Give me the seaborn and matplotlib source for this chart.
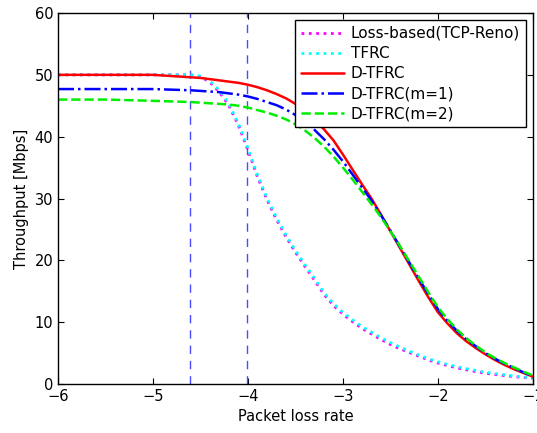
import seaborn as sns
import matplotlib.pyplot as plt

# packet loss rate (log10 scale) grid
loss_rate = [-6.0, -5.5, -5.0, -4.8, -4.6, -4.5, -4.4, -4.3, -4.2, -4.1,
             -4.0, -3.9, -3.8, -3.7, -3.6, -3.5, -3.4, -3.3, -3.2, -3.1,
             -3.0, -2.9, -2.8, -2.7, -2.6, -2.5, -2.4, -2.3, -2.2, -2.1,
             -2.0, -1.9, -1.8, -1.7, -1.6, -1.5, -1.4, -1.3, -1.2, -1.1, -1.0]

loss_based = [50.0, 50.0, 50.0, 50.0, 50.0, 49.7, 48.8, 47.2, 45.0, 41.8,
              37.8, 33.5, 29.8, 26.6, 23.8, 21.3, 19.0, 16.8, 14.5, 12.7,
              11.3, 10.1, 9.0, 8.1, 7.2, 6.4, 5.7, 5.1, 4.5, 3.9,
              3.4, 3.0, 2.6, 2.3, 2.0, 1.75, 1.55, 1.37, 1.2, 1.07, 0.95]

tfrc = [50.0, 50.0, 50.0, 50.0, 50.0, 49.8, 49.0, 47.5, 45.3, 42.1,
        38.1, 33.8, 30.1, 26.9, 24.1, 21.6, 19.3, 17.1, 14.8, 13.0,
        11.6, 10.4, 9.3, 8.4, 7.5, 6.7, 6.0, 5.3, 4.7, 4.1,
        3.6, 3.2, 2.8, 2.5, 2.2, 1.9, 1.7, 1.5, 1.3, 1.15, 1.0]

d_tfrc = [50.0, 50.0, 50.0, 49.8, 49.6, 49.5, 49.3, 49.1, 48.9, 48.7,
          48.4, 48.0, 47.5, 46.9, 46.2, 45.3, 44.1, 42.7, 41.2, 39.4,
          37.1, 34.7, 32.3, 30.0, 27.4, 24.7, 22.0, 19.3, 16.6, 14.0,
          11.6, 9.8, 8.2, 6.9, 5.8, 4.8, 3.9, 3.1, 2.4, 1.8, 1.2]

d_tfrc_m1 = [47.7, 47.7, 47.7, 47.6, 47.5, 47.4, 47.3, 47.2, 47.0, 46.8,
             46.5, 46.1, 45.6, 45.1, 44.4, 43.5, 42.4, 41.1, 39.6, 37.9,
             36.0, 33.9, 31.8, 29.7, 27.3, 24.8, 22.2, 19.6, 17.0, 14.5,
             12.1, 10.2, 8.6, 7.2, 6.1, 5.0, 4.1, 3.3, 2.6, 1.9, 1.3]

d_tfrc_m2 = [46.0, 46.0, 45.8, 45.7, 45.6, 45.5, 45.4, 45.3, 45.2, 45.0,
             44.7, 44.3, 43.9, 43.4, 42.8, 42.0, 41.0, 39.8, 38.4, 36.8,
             35.0, 33.1, 31.1, 29.1, 27.0, 24.7, 22.3, 19.8, 17.3, 14.8,
             12.4, 10.5, 8.8, 7.4, 6.2, 5.1, 4.2, 3.4, 2.7, 2.0, 1.4]

marker_lines = [-4.61, -4.01]

sns.set_style("ticks")
plt.rcParams['font.family'] = ['DejaVu Sans']
plt.rcParams['text.color'] = 'black'
plt.rcParams['axes.labelcolor'] = 'black'
plt.rcParams['xtick.color'] = 'black'
plt.rcParams['ytick.color'] = 'black'

fig = plt.figure(figsize=(5.37, 4.33), dpi=100)
ax = fig.add_axes([0.108, 0.113, 0.8845, 0.857])

for xv in marker_lines:
    ax.axvline(xv, color="#4a4aff", linestyle=(0, (6, 5)), linewidth=1.0, zorder=1)

sns.lineplot(x=loss_rate, y=loss_based, ax=ax, color="magenta", linestyle=":",
             linewidth=2, label="Loss-based(TCP-Reno)")
sns.lineplot(x=loss_rate, y=tfrc, ax=ax, color="cyan", linestyle=":",
             linewidth=2, label="TFRC")
sns.lineplot(x=loss_rate, y=d_tfrc, ax=ax, color="red", linestyle="-",
             linewidth=1.8, label="D-TFRC")
sns.lineplot(x=loss_rate, y=d_tfrc_m1, ax=ax, color="blue", linestyle="-.",
             linewidth=1.8, label="D-TFRC(m=1)")
sns.lineplot(x=loss_rate, y=d_tfrc_m2, ax=ax, color="#00ee00", linestyle="--",
             linewidth=1.8, label="D-TFRC(m=2)")

ax.set_xlim(-6, -1)
ax.set_ylim(0, 60)
ax.set_xticks([-6, -5, -4, -3, -2, -1])
ax.set_yticks([0, 10, 20, 30, 40, 50, 60])
ax.tick_params(direction="in", top=True, right=True, labelsize=10.5, length=4, width=0.8)
for s in ax.spines.values():
    s.set_linewidth(1.0)
    s.set_color("black")

ax.set_xlabel("Packet loss rate", fontsize=10.5)
ax.set_ylabel("Throughput [Mbps]", fontsize=10.5)

leg = ax.legend(loc="upper right", fontsize=11, handlelength=2.8, handletextpad=0.45,
                fancybox=False, framealpha=1, edgecolor="black", borderaxespad=0.45,
                labelspacing=0.33, borderpad=0.4)
leg.get_frame().set_linewidth(1.0)

fig.savefig("out.png", dpi=100)
